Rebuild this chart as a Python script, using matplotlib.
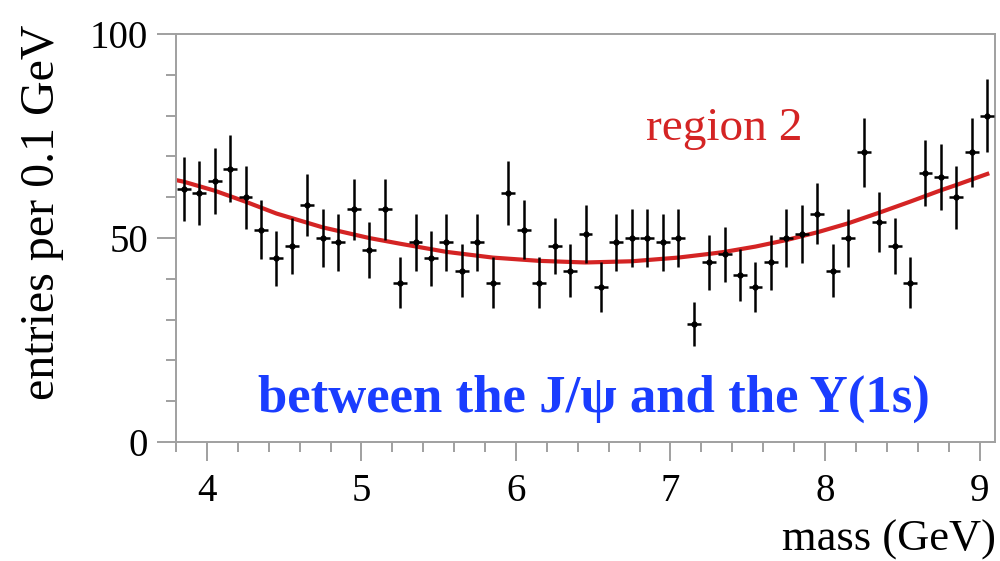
import numpy as np
import matplotlib
matplotlib.use('Agg')
import matplotlib.pyplot as plt
from matplotlib.ticker import MultipleLocator

# histogram: bin centres (0.1 GeV bins) and entries
mass = [3.85, 3.95, 4.05, 4.15, 4.25, 4.35, 4.45, 4.55, 4.65, 4.75,
        4.85, 4.95, 5.05, 5.15, 5.25, 5.35, 5.45, 5.55, 5.65, 5.75,
        5.85, 5.95, 6.05, 6.15, 6.25, 6.35, 6.45, 6.55, 6.65, 6.75,
        6.85, 6.95, 7.05, 7.15, 7.25, 7.35, 7.45, 7.55, 7.65, 7.75,
        7.85, 7.95, 8.05, 8.15, 8.25, 8.35, 8.45, 8.55, 8.65, 8.75,
        8.85, 8.95, 9.05]
entries = [62, 61, 64, 67, 60, 52, 45, 48, 58, 50,
           49, 57, 47, 57, 39, 49, 45, 49, 42, 49,
           39, 61, 52, 39, 48, 42, 51, 38, 49, 50,
           50, 49, 50, 29, 44, 46, 41, 38, 44, 50,
           51, 56, 42, 50, 71, 54, 48, 39, 66, 65,
           60, 71, 80]

# fitted background curve
fit_mass = [3.8, 3.85, 4.05, 4.25, 4.45, 4.75, 5.05, 5.25, 5.55, 5.85,
            6.15, 6.45, 6.75, 7.05, 7.25, 7.35, 7.55, 7.75, 7.95, 8.15,
            8.35, 8.55, 8.75, 8.85, 9.05]
fit_entries = [64.2, 63.8, 61.6, 58.9, 56.0, 52.6, 50.0, 48.6, 46.6, 45.2,
               44.4, 44.0, 44.3, 45.2, 46.1, 46.6, 47.9, 49.5, 51.4, 53.6,
               56.2, 58.9, 61.7, 63.0, 65.7]

serif = ['Liberation Serif', 'DejaVu Serif']
grey = '#a0a0a0'

fig = plt.figure(figsize=(10, 5.61), dpi=100)
ax = fig.add_axes([0.176, 0.2121, 0.819, 0.7273])

ax.plot(fit_mass, fit_entries, color='#d42424', lw=3.0, zorder=2)
ax.errorbar(mass, entries, yerr=np.sqrt(entries), xerr=0.045, fmt='o',
            ms=3.5, color='black', ecolor='black', elinewidth=1.8,
            capsize=0, zorder=3)

ax.set_xlim(3.8, 9.1)
ax.set_ylim(0, 100)
ax.xaxis.set_major_locator(MultipleLocator(1))
ax.xaxis.set_minor_locator(MultipleLocator(0.2))
ax.yaxis.set_major_locator(MultipleLocator(50))
ax.yaxis.set_minor_locator(MultipleLocator(10))

for s in ax.spines.values():
    s.set_color(grey)
    s.set_linewidth(1.4)
ax.tick_params(which='both', direction='out', color=grey, width=1.4)
ax.tick_params(which='major', length=14, pad=6)
ax.tick_params(which='minor', length=7)
ax.tick_params(axis='x', which='major', pad=8)
for lab in ax.get_xticklabels() + ax.get_yticklabels():
    lab.set_fontfamily(serif)
    lab.set_fontsize(28)

fig.text(0.042, 1 - 25 / 561, 'entries per 0.1 GeV', rotation=90,
         ha='center', va='top', fontsize=34.5, family=serif)
fig.text(0.996, 1 - 540 / 561, 'mass (GeV)', ha='right', va='center',
         fontsize=32, family=serif)

ax.text(6.84, 74, 'region 2', color='#d42424', fontsize=34,
        family=serif, va='baseline')
ax.text(4.33, 7.4, 'between the J/\u03c8 and the \u03a5(1s)', color='#1a3dff',
        fontsize=38, fontweight='bold', family=serif, va='baseline')

fig.savefig('out.png', dpi=100)
